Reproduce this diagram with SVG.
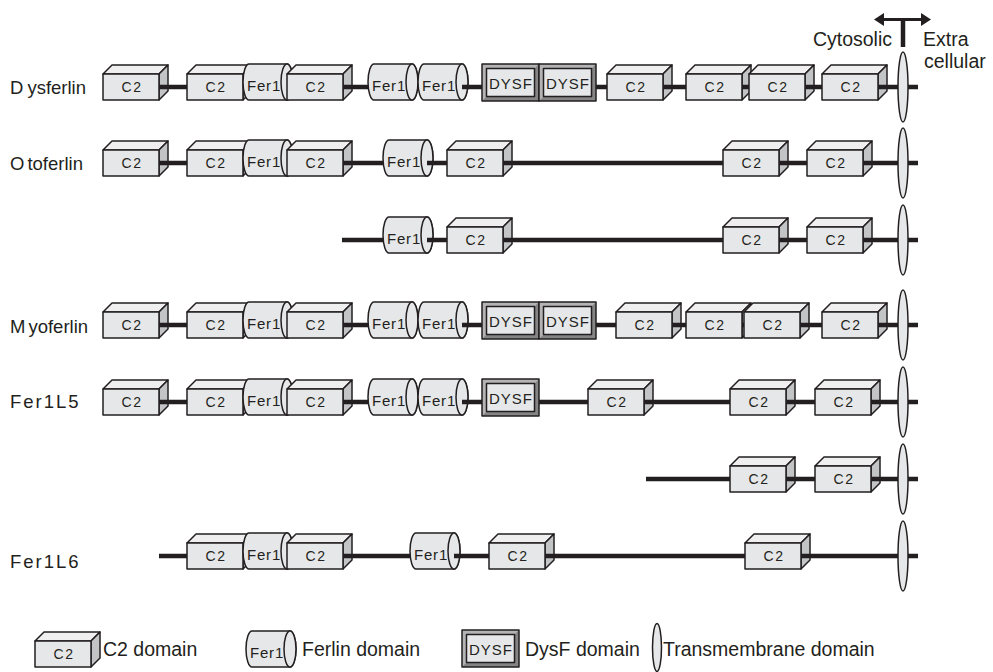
<svg xmlns="http://www.w3.org/2000/svg" xmlns:xlink="http://www.w3.org/1999/xlink" width="993" height="672" viewBox="0 0 993 672">
<style>
.sh{stroke:#231f20;stroke-width:1.5;stroke-linejoin:round}
.fr{fill:#e6e7e8}
.tp{fill:#efefef}
.sd{fill:#c2c4c6}
.ln{stroke:#231f20;stroke-width:4.5;fill:none}
text{font-family:"Liberation Sans",Arial,sans-serif;fill:#231f20}
.c2t{font-size:14px;letter-spacing:1.5px;text-anchor:middle}
.ft{font-size:15px;letter-spacing:0.8px}
.dt{font-size:15px;letter-spacing:1px;text-anchor:middle}
.lb{font-size:18.5px}
.lg{font-size:19.5px}
</style>
<defs>
<g id="c2s">
<polygon class="sh tp" points="0,-13 9,-22 65,-22 56,-13"/>
<polygon class="sh sd" points="56,-13 65,-22 65,4 56,13"/>
<rect class="sh fr" x="0" y="-13" width="56" height="26"/>
</g>
<g id="fers">
<path class="sh fr" d="M0,-23 H38 A6,18 0 0 1 38,13 H0 A6,18 0 0 1 0,-23 Z"/>
<ellipse class="sh fr" cx="38" cy="-5" rx="6" ry="18"/>
</g>
<g id="dysfs">
<rect x="0" y="-23" width="57" height="37" fill="#b4b4b4"/>
<polygon points="57,-23 52.5,-18.5 52.5,9.5 4.5,9.5 0,14 57,14" fill="#858585"/>
<rect class="sh" x="0" y="-23" width="57" height="37" fill="none"/>
<rect class="sh fr" x="4.5" y="-18.5" width="48" height="28"/>
</g>
<marker id="ah" viewBox="0 0 10 13" refX="1" refY="6.5" markerWidth="10" markerHeight="13" markerUnits="userSpaceOnUse" orient="auto-start-reverse">
<path d="M0,0 L10,6.5 L0,13 Z" fill="#231f20"/>
</marker>
</defs>

<!-- Orientation indicator -->
<g id="orientation">
<line x1="903" y1="19" x2="903" y2="47" stroke="#231f20" stroke-width="4.5"/>
<line x1="883" y1="19.5" x2="922" y2="19.5" stroke="#231f20" stroke-width="3" marker-start="url(#ah)" marker-end="url(#ah)"/>
<text class="lg" x="892" y="46" text-anchor="end">Cytosolic</text>
<text class="lg" x="923" y="46">Extra</text>
<text class="lg" x="924" y="68">cellular</text>
</g>

<!-- Row labels -->
<g id="labels">
<text class="lb" x="10" y="94"><tspan>D</tspan><tspan dx="4">ysferlin</tspan></text>
<text class="lb" x="10" y="170"><tspan>O</tspan><tspan dx="3">toferlin</tspan></text>
<text class="lb" x="10" y="333"><tspan>M</tspan><tspan dx="3">yoferlin</tspan></text>
<text class="lb" x="10" y="408" letter-spacing="2">Fer1L5</text>
<text class="lb" x="10" y="568" letter-spacing="2">Fer1L6</text>
</g>

<!-- Row 1: Dysferlin -->
<g id="r1-c2a" transform="translate(103,87)"><use href="#c2s"/><text class="c2t" x="29" y="5">C2</text></g>
<g id="r1-c2b" transform="translate(187,87)"><use href="#c2s"/><text class="c2t" x="29" y="5">C2</text></g>
<g id="r1-fera" transform="translate(249,87)"><use href="#fers"/><text class="ft" x="-2" y="4">Fer1</text></g>
<g id="r1-c2c" transform="translate(287,87)"><use href="#c2s"/><text class="c2t" x="29" y="5">C2</text></g>
<g id="r1-ferb" transform="translate(374,87)"><use href="#fers"/><text class="ft" x="-2" y="4">Fer1</text></g>
<g id="r1-ferc" transform="translate(424,87)"><use href="#fers"/><text class="ft" x="-2" y="4">Fer1</text></g>
<g id="r1-dysfa" transform="translate(482,87)"><use href="#dysfs"/><text class="dt" x="29" y="2">DYSF</text></g>
<g id="r1-dysfb" transform="translate(539,87)"><use href="#dysfs"/><text class="dt" x="29" y="2">DYSF</text></g>
<g id="r1-c2d" transform="translate(607,87)"><use href="#c2s"/><text class="c2t" x="29" y="5">C2</text></g>
<g id="r1-c2e" transform="translate(686,87)"><use href="#c2s"/><text class="c2t" x="29" y="5">C2</text></g>
<g id="r1-c2f" transform="translate(749,87)"><use href="#c2s"/><text class="c2t" x="29" y="5">C2</text></g>
<g id="r1-c2g" transform="translate(822,87)"><use href="#c2s"/><text class="c2t" x="29" y="5">C2</text></g>

<!-- Row 2: Otoferlin -->
<g id="r2-c2a" transform="translate(103,163)"><use href="#c2s"/><text class="c2t" x="29" y="5">C2</text></g>
<g id="r2-c2b" transform="translate(187,163)"><use href="#c2s"/><text class="c2t" x="29" y="5">C2</text></g>
<g id="r2-fera" transform="translate(249,163)"><use href="#fers"/><text class="ft" x="-2" y="4">Fer1</text></g>
<g id="r2-c2c" transform="translate(287,163)"><use href="#c2s"/><text class="c2t" x="29" y="5">C2</text></g>
<g id="r2-ferb" transform="translate(389,163)"><use href="#fers"/><text class="ft" x="-2" y="4">Fer1</text></g>
<g id="r2-c2d" transform="translate(447,163)"><use href="#c2s"/><text class="c2t" x="29" y="5">C2</text></g>
<g id="r2-c2e" transform="translate(723,163)"><use href="#c2s"/><text class="c2t" x="29" y="5">C2</text></g>
<g id="r2-c2f" transform="translate(807,163)"><use href="#c2s"/><text class="c2t" x="29" y="5">C2</text></g>

<!-- Row 3 -->
<g id="r3-fera" transform="translate(389,240)"><use href="#fers"/><text class="ft" x="-2" y="4">Fer1</text></g>
<g id="r3-c2a" transform="translate(447,240)"><use href="#c2s"/><text class="c2t" x="29" y="5">C2</text></g>
<g id="r3-c2b" transform="translate(723,240)"><use href="#c2s"/><text class="c2t" x="29" y="5">C2</text></g>
<g id="r3-c2c" transform="translate(807,240)"><use href="#c2s"/><text class="c2t" x="29" y="5">C2</text></g>

<!-- Row 4: Myoferlin -->
<g id="r4-c2a" transform="translate(103,325)"><use href="#c2s"/><text class="c2t" x="29" y="5">C2</text></g>
<g id="r4-c2b" transform="translate(187,325)"><use href="#c2s"/><text class="c2t" x="29" y="5">C2</text></g>
<g id="r4-fera" transform="translate(249,325)"><use href="#fers"/><text class="ft" x="-2" y="4">Fer1</text></g>
<g id="r4-c2c" transform="translate(287,325)"><use href="#c2s"/><text class="c2t" x="29" y="5">C2</text></g>
<g id="r4-ferb" transform="translate(374,325)"><use href="#fers"/><text class="ft" x="-2" y="4">Fer1</text></g>
<g id="r4-ferc" transform="translate(424,325)"><use href="#fers"/><text class="ft" x="-2" y="4">Fer1</text></g>
<g id="r4-dysfa" transform="translate(482,325)"><use href="#dysfs"/><text class="dt" x="29" y="2">DYSF</text></g>
<g id="r4-dysfb" transform="translate(539,325)"><use href="#dysfs"/><text class="dt" x="29" y="2">DYSF</text></g>
<g id="r4-c2d" transform="translate(616,325)"><use href="#c2s"/><text class="c2t" x="29" y="5">C2</text></g>
<g id="r4-c2e" transform="translate(686,325)"><use href="#c2s"/><text class="c2t" x="29" y="5">C2</text></g>
<g id="r4-c2f" transform="translate(744,325)"><use href="#c2s"/><text class="c2t" x="29" y="5">C2</text></g>
<g id="r4-c2g" transform="translate(822,325)"><use href="#c2s"/><text class="c2t" x="29" y="5">C2</text></g>

<!-- Row 5: Fer1L5 -->
<g id="r5-c2a" transform="translate(103,402)"><use href="#c2s"/><text class="c2t" x="29" y="5">C2</text></g>
<g id="r5-c2b" transform="translate(187,402)"><use href="#c2s"/><text class="c2t" x="29" y="5">C2</text></g>
<g id="r5-fera" transform="translate(249,402)"><use href="#fers"/><text class="ft" x="-2" y="4">Fer1</text></g>
<g id="r5-c2c" transform="translate(287,402)"><use href="#c2s"/><text class="c2t" x="29" y="5">C2</text></g>
<g id="r5-ferb" transform="translate(374,402)"><use href="#fers"/><text class="ft" x="-2" y="4">Fer1</text></g>
<g id="r5-ferc" transform="translate(424,402)"><use href="#fers"/><text class="ft" x="-2" y="4">Fer1</text></g>
<g id="r5-dysfa" transform="translate(482,402)"><use href="#dysfs"/><text class="dt" x="29" y="2">DYSF</text></g>
<g id="r5-c2d" transform="translate(588,402)"><use href="#c2s"/><text class="c2t" x="29" y="5">C2</text></g>
<g id="r5-c2e" transform="translate(730,402)"><use href="#c2s"/><text class="c2t" x="29" y="5">C2</text></g>
<g id="r5-c2f" transform="translate(815,402)"><use href="#c2s"/><text class="c2t" x="29" y="5">C2</text></g>

<!-- Row 6 -->
<g id="r6-c2a" transform="translate(730,479)"><use href="#c2s"/><text class="c2t" x="29" y="5">C2</text></g>
<g id="r6-c2b" transform="translate(815,479)"><use href="#c2s"/><text class="c2t" x="29" y="5">C2</text></g>

<!-- Row 7: Fer1L6 -->
<g id="r7-c2a" transform="translate(187,556)"><use href="#c2s"/><text class="c2t" x="29" y="5">C2</text></g>
<g id="r7-fera" transform="translate(249,556)"><use href="#fers"/><text class="ft" x="-2" y="4">Fer1</text></g>
<g id="r7-c2b" transform="translate(287,556)"><use href="#c2s"/><text class="c2t" x="29" y="5">C2</text></g>
<g id="r7-ferb" transform="translate(416,556)"><use href="#fers"/><text class="ft" x="-2" y="4">Fer1</text></g>
<g id="r7-c2c" transform="translate(489,556)"><use href="#c2s"/><text class="c2t" x="29" y="5">C2</text></g>
<g id="r7-c2d" transform="translate(745,556)"><use href="#c2s"/><text class="c2t" x="29" y="5">C2</text></g>

<!-- Connectors (linker segments) -->
<g id="connectors" class="ln">
<path d="M159,87H187 M343,87H368 M462,87H482 M596,87H607 M663,87H686 M742,87H749 M805,87H822 M878,87H918"/>
<path d="M159,163H187 M343,163H383 M427,163H447 M503,163H723 M779,163H807 M863,163H918"/>
<path d="M342,240H383 M427,240H447 M503,240H723 M779,240H807 M863,240H918"/>
<path d="M159,325H187 M343,325H368 M462,325H482 M596,325H616 M672,325H686 M742,325H744 M800,325H822 M878,325H918"/>
<path d="M159,402H187 M343,402H368 M462,402H482 M539,402H588 M644,402H730 M786,402H815 M871,402H918"/>
<path d="M646,479H730 M786,479H815 M871,479H918"/>
<path d="M159,556H187 M343,556H410 M454,556H489 M545,556H745 M801,556H918"/>
</g>

<!-- Transmembrane domains -->
<g id="tm1"><ellipse class="sh fr" cx="903" cy="87" rx="5" ry="35"/></g>
<g id="tm2"><ellipse class="sh fr" cx="903" cy="163" rx="5" ry="35"/></g>
<g id="tm3"><ellipse class="sh fr" cx="903" cy="240" rx="5" ry="35"/></g>
<g id="tm4"><ellipse class="sh fr" cx="903" cy="325" rx="5" ry="35"/></g>
<g id="tm5"><ellipse class="sh fr" cx="903" cy="402" rx="5" ry="35"/></g>
<g id="tm6"><ellipse class="sh fr" cx="903" cy="479" rx="5" ry="35"/></g>
<g id="tm7"><ellipse class="sh fr" cx="903" cy="556" rx="5" ry="35"/></g>

<!-- Legend -->
<g id="legend-c2" transform="translate(35,654)"><use href="#c2s"/><text class="c2t" x="29" y="5">C2</text></g>
<g id="legend-c2-label"><text class="lg" x="103" y="656">C2 domain</text></g>
<g id="legend-fer" transform="translate(252,654)"><use href="#fers"/><text class="ft" x="-2" y="4">Fer1</text></g>
<g id="legend-fer-label"><text class="lg" x="302" y="656">Ferlin domain</text></g>
<g id="legend-dysf" transform="translate(462,653)"><use href="#dysfs"/><text class="dt" x="29" y="2">DYSF</text></g>
<g id="legend-dysf-label"><text class="lg" x="525" y="656">DysF domain</text></g>
<g id="legend-tm"><ellipse class="sh fr" cx="657" cy="647.5" rx="4.5" ry="24"/></g>
<g id="legend-tm-label"><text class="lg" x="663" y="656">Transmembrane domain</text></g>
</svg>
